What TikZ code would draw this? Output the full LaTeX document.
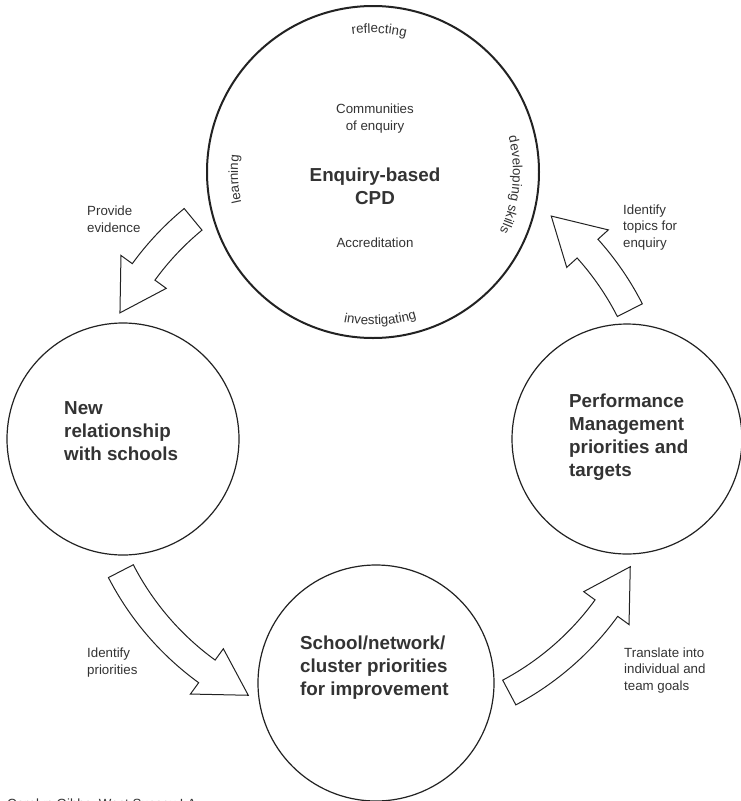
\documentclass[tikz,border=0pt]{standalone}
\usepackage{fontspec}
\setmainfont{Liberation Sans}
\usetikzlibrary{calc,decorations.text}
\definecolor{txt}{HTML}{333333}
\definecolor{ln}{HTML}{222222}
\newcommand\smallsz{\fontsize{13.3}{16.5}\selectfont}
\newcommand\bigsz{\fontsize{18.8}{23}\selectfont\bfseries}
\newcommand\cyclearrow[3]{%
  \draw[blockarrow] ($(C)+(#1:300)$) arc[start angle=#1,end angle=#2,radius=300]
    -- ($(C)+(#2:314)$) -- ($(C)+(#3:285)$) -- ($(C)+(#2:258)$)
    -- ($(C)+(#2:272)$) arc[start angle=#2,end angle=#1,radius=272] -- cycle;}
\tikzset{
  ring/.style={circle, draw=ln, line width=1.2pt, inner sep=0pt, fill=white},
  blockarrow/.style={draw=ln, line width=1pt, fill=white, line join=miter},
  smalltxt/.style={font=\smallsz, text=txt, inner sep=0pt, align=left},
  bigtxt/.style={font=\bigsz, text=txt, inner sep=0pt, align=left},
  arctxt/.style={decorate, decoration={text along path, text={|\smallsz|#1}, text align=center, text color=txt}}
}
\begin{document}
\begin{tikzpicture}[x=1pt,y=-1pt]
\useasboundingbox[fill=white] (0,0) rectangle (740,801);
\coordinate (C) at (375,440);

% circles
\node[ring, line width=2pt, minimum size=332pt] (cpd) at (373,172) {};
\node[ring, minimum size=232pt] (rel) at (123,439) {};
\node[ring, minimum size=230pt] (perf) at (627,439) {};
\node[ring, minimum size=236pt] (school) at (376,683) {};

% block arrows
\cyclearrow{230.5}{216}{206.5}
\cyclearrow{152.7}{126}{116.4}
\cyclearrow{62}{36}{26.4}
\cyclearrow{-27}{-42}{-51.8}

% text in top circle
\node[smalltxt, align=center] (comm) at (375,118.5) {Communities\\of enquiry};
\node[bigtxt, align=center] (cpdt) at (375,186.5) {Enquiry-based\\CPD};
\node[smalltxt, align=center] (accr) at (375,243) {Accreditation};

\path[arctxt=reflecting] ($(cpd.center)+(-117.5:139)$) arc[start angle=-117.5,end angle=-57.5,radius=139];
\path[arctxt=investigating] ($(cpd.center)+(117.2:153)$) arc[start angle=117.2,end angle=57.2,radius=153];
\path[arctxt={developing skills}] ($(cpd.center)+(-29.7:140)$) arc[start angle=-29.7,end angle=40.3,radius=140];
\path[arctxt=learning] ($(cpd.center)+(147:135)$) arc[start angle=147,end angle=207,radius=135];

% texts of other circles
\node[bigtxt, anchor=west] (relt) at (64,431.5) {New\\relationship\\with schools};
\node[bigtxt, anchor=west] (perft) at (569,437.5) {Performance\\Management\\priorities and\\targets};
\node[bigtxt, anchor=west] (schoolt) at (300,668) {School/network/\\cluster priorities\\for improvement};

% arrow labels
\node[smalltxt, anchor=west] (pe) at (87,219) {Provide\\evidence};
\node[smalltxt, anchor=west] (itp) at (623,227.5) {Identify\\topics for\\enquiry};
\node[smalltxt, anchor=west] (ip) at (87,662.5) {Identify\\priorities};
\node[smalltxt, anchor=west] (tr) at (624,670.5) {Translate into\\individual and\\team goals};

% credit
\node[smalltxt, anchor=base west] (credit) at (7,808.5) {Carolyn Gibbs, West Sussex LA};
\end{tikzpicture}
\end{document}
